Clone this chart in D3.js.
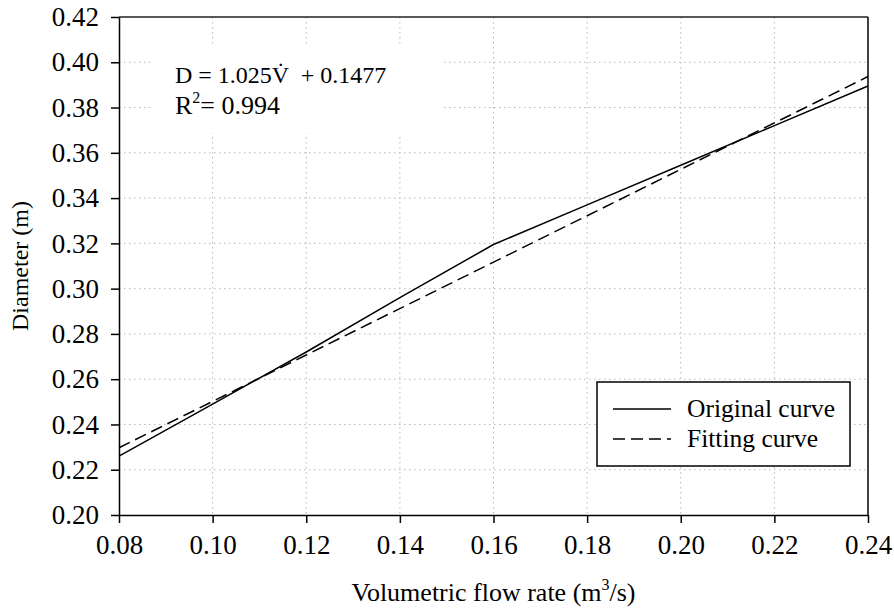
<!DOCTYPE html>
<html>
<head>
<meta charset="utf-8">
<script src="https://cdn.jsdelivr.net/npm/d3@7"></script>
<style>
  body { margin: 0; background: #fff; }
  svg text { font-family: "Liberation Serif", "Times New Roman", serif; fill: #000; }
</style>
</head>
<body>
<div id="chart"></div>
<script>
// data
var flowRates    = [0.08, 0.10, 0.12, 0.14, 0.16, 0.18, 0.20, 0.22, 0.24];
var originalDiam = [0.226, 0.249, 0.272, 0.296, 0.3195, 0.337, 0.3545, 0.372, 0.3895];
var fitFlow      = [0.08, 0.24];
var fitDiam      = [0.2297, 0.3937];
var xTicks = [0.08, 0.10, 0.12, 0.14, 0.16, 0.18, 0.20, 0.22, 0.24];
var yTicks = [0.20, 0.22, 0.24, 0.26, 0.28, 0.30, 0.32, 0.34, 0.36, 0.38, 0.40, 0.42];

var W = 894, H = 610;
var margin = {left: 119, right: 26, top: 17, bottom: 95};
var width  = W - margin.left - margin.right;
var height = H - margin.top - margin.bottom;

var svg = d3.select("#chart").append("svg").attr("width", W).attr("height", H);

var x = d3.scaleLinear().domain([0.08, 0.24]).range([0, width]);
var y = d3.scaleLinear().domain([0.20, 0.42]).range([height, 0]);

var g = svg.append("g").attr("transform", "translate(" + margin.left + "," + margin.top + ")");

// dotted grid
g.selectAll(".vgrid").data(xTicks.slice(1, -1)).enter().append("line")
  .attr("x1", function(d){return x(d);}).attr("x2", function(d){return x(d);})
  .attr("y1", 0).attr("y2", height)
  .attr("stroke", "#b8b8b8").attr("stroke-width", 1).attr("stroke-dasharray", "1.5,3.5");
g.selectAll(".hgrid").data(yTicks.slice(1, -1)).enter().append("line")
  .attr("y1", function(d){return y(d);}).attr("y2", function(d){return y(d);})
  .attr("x1", 0).attr("x2", width)
  .attr("stroke", "#b8b8b8").attr("stroke-width", 1).attr("stroke-dasharray", "1.5,3.5");

// frame top / right
g.append("line").attr("x1", 0).attr("x2", width).attr("y1", 0).attr("y2", 0)
  .attr("stroke", "#222").attr("stroke-width", 1.5);
g.append("line").attr("x1", width).attr("x2", width).attr("y1", 0).attr("y2", height)
  .attr("stroke", "#000").attr("stroke-width", 1.5);

// equation box (hides grid)
g.append("rect").attr("x", 33).attr("y", 27).attr("width", 291).attr("height", 89).attr("fill", "#fff");
var eq = g.append("text").attr("x", 56).attr("y", 66).style("font-size", "24px").style("white-space", "pre");
eq.append("tspan").text("D = 1.025V\u0307  + 0.1477");
var r2 = g.append("text").attr("x", 56).attr("y", 97).style("font-size", "26px");
r2.append("tspan").text("R");
r2.append("tspan").attr("dy", -11).style("font-size", "16px").text("2");
r2.append("tspan").attr("dy", 11).text("= 0.994");

// lines
var line = d3.line().x(function(d){return x(d[0]);}).y(function(d){return y(d[1]);});
g.append("path").attr("d", line(d3.zip(fitFlow, fitDiam)))
  .attr("fill", "none").attr("stroke", "#000").attr("stroke-width", 1.5).attr("stroke-dasharray", "12,6");
g.append("path").attr("d", line(d3.zip(flowRates, originalDiam)))
  .attr("fill", "none").attr("stroke", "#000").attr("stroke-width", 1.5);

// axes
var xAxis = d3.axisBottom(x).tickValues(xTicks).tickSize(8).tickSizeOuter(0).tickPadding(12)
  .tickFormat(d3.format(".2f"));
var yAxis = d3.axisLeft(y).tickValues(yTicks).tickSize(8).tickSizeOuter(0).tickPadding(12)
  .tickFormat(d3.format(".2f"));

var gx = g.append("g").attr("transform", "translate(0," + height + ")").call(xAxis);
var gy = g.append("g").call(yAxis);
[gx, gy].forEach(function(a){
  a.attr("font-family", null).attr("font-size", null);
  a.selectAll("path, line").attr("stroke", "#000").attr("stroke-width", 1.5);
  a.selectAll("text").style("font-size", "27px").attr("fill", "#000");
});

// legend
var lg = g.append("g").attr("transform", "translate(" + (597 - margin.left) + "," + (382 - margin.top) + ")");
lg.append("rect").attr("width", 253).attr("height", 84).attr("fill", "#fff")
  .attr("stroke", "#000").attr("stroke-width", 1.5);
var legendItems = [{label: "Original curve", dash: null}, {label: "Fitting curve", dash: "12,6"}];
legendItems.forEach(function(it, i){
  var yy = 27 + i * 30;
  lg.append("line").attr("x1", 16).attr("x2", 74).attr("y1", yy).attr("y2", yy)
    .attr("stroke", "#000").attr("stroke-width", 1.5).attr("stroke-dasharray", it.dash);
  lg.append("text").attr("x", 90).attr("y", yy + 8).style("font-size", "25.5px").text(it.label);
});

// axis titles
var xt = svg.append("text").attr("x", margin.left + width / 2).attr("y", 601)
  .attr("text-anchor", "middle").style("font-size", "26px");
xt.append("tspan").text("Volumetric flow rate (m");
xt.append("tspan").attr("dy", -11).style("font-size", "16px").text("3");
xt.append("tspan").attr("dy", 11).text("/s)");

svg.append("text").attr("transform", "translate(28," + (margin.top + height / 2) + ") rotate(-90)")
  .attr("text-anchor", "middle").style("font-size", "24px").text("Diameter (m)");
</script>
</body>
</html>
